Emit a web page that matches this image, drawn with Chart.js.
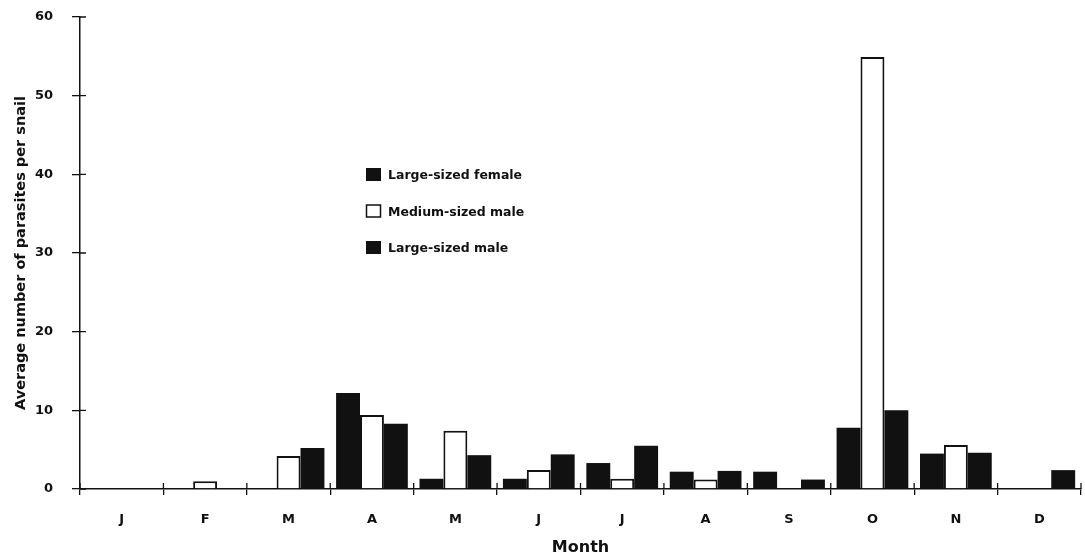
<!DOCTYPE html>
<html>
<head>
<meta charset="utf-8">
<script src="https://cdn.jsdelivr.net/npm/chart.js@4/dist/chart.umd.min.js"></script>
<style>
  html, body { margin: 0; padding: 0; background: #fff; }
  #wrap { width: 1085px; height: 557px; }
</style>
</head>
<body>
<div id="wrap"><canvas id="chart" width="1085" height="557"></canvas></div>
<script>
// months and values
const months = ['J', 'F', 'M', 'A', 'M', 'J', 'J', 'A', 'S', 'O', 'N', 'D'];
const largeFemale = [0, 0, 0, 12.2, 1.3, 1.3, 3.3, 2.2, 2.2, 7.8, 4.5, 0];
const mediumMale = [0, 1.0, 4.2, 9.4, 7.4, 2.4, 1.3, 1.2, 0, 54.9, 5.6, 0];
const largeMale = [0, 0, 5.2, 8.3, 4.3, 4.4, 5.5, 2.3, 1.2, 10.0, 4.6, 2.4];
const yTicks = [0, 10, 20, 30, 40, 50, 60];

const ink = '#111';
const fontFam = "'DejaVu Sans', 'Liberation Sans', sans-serif";

// legend drawn inside the plot, like in the paper figure
const innerLegend = {
  id: 'innerLegend',
  afterDraw(chart) {
    const ctx = chart.ctx;
    ctx.save();
    ctx.font = 'bold 12.5px ' + fontFam;
    ctx.textBaseline = 'middle';
    chart.data.datasets.forEach((ds, i) => {
      const y = 175 + i * 36.5;
      ctx.fillStyle = ds.backgroundColor;
      ctx.fillRect(366, y - 7, 15, 13);
      if (ds.borderWidth) {
        ctx.strokeStyle = ink;
        ctx.lineWidth = 1.5;
        ctx.strokeRect(366.5, y - 6.5, 14, 12);
      }
      ctx.fillStyle = ink;
      ctx.fillText(ds.label, 388, y + 1);
    });
    ctx.restore();
  }
};

// ticks in the figure cross the axes, chart.js only draws the outer half
const innerTicks = {
  id: 'innerTicks',
  afterDraw(chart) {
    const ctx = chart.ctx;
    const x = chart.scales.x, y = chart.scales.y;
    ctx.save();
    ctx.strokeStyle = ink;
    ctx.lineWidth = 1.3;
    ctx.beginPath();
    yTicks.forEach(v => {
      const py = y.getPixelForValue(v);
      ctx.moveTo(x.left, py);
      ctx.lineTo(x.left + 6, py);
    });
    for (let i = 0; i <= months.length; i++) {
      const px = x.getPixelForValue(i - 0.5);
      ctx.moveTo(px, y.bottom);
      ctx.lineTo(px, y.bottom - 6);
    }
    ctx.stroke();
    ctx.restore();
  }
};

new Chart(document.getElementById('chart'), {
  type: 'bar',
  data: {
    labels: months,
    datasets: [
      { label: 'Large-sized female', data: largeFemale, backgroundColor: ink, borderWidth: 0 },
      { label: 'Medium-sized male', data: mediumMale, backgroundColor: '#fff', borderColor: ink, borderWidth: 2, borderSkipped: 'bottom' },
      { label: 'Large-sized male', data: largeMale, backgroundColor: ink, borderWidth: 0 }
    ]
  },
  options: {
    responsive: false,
    animation: false,
    layout: { padding: { top: 17, right: 4, left: 0, bottom: 0 } },
    datasets: { bar: { categoryPercentage: 0.86, barPercentage: 1.0 } },
    plugins: { legend: { display: false }, tooltip: { enabled: false } },
    scales: {
      x: {
        grid: { display: true, drawOnChartArea: false, offset: true, color: ink, lineWidth: 1.3, tickLength: 6 },
        border: { color: ink, width: 1.5 },
        ticks: { color: ink, font: { family: fontFam, size: 13, weight: 'bold' }, padding: 17, maxRotation: 0 },
        title: { display: true, text: 'Month', color: ink, font: { family: fontFam, size: 16, weight: 'bold' }, padding: { top: 4, bottom: 0 } },
        afterFit(s) { s.height = 68; s.paddingLeft = 0; s.paddingRight = 0; }
      },
      y: {
        min: 0, max: 60,
        afterBuildTicks(s) { s.ticks = yTicks.map(v => ({ value: v })); },
        grid: { display: true, drawOnChartArea: false, color: ink, lineWidth: 1.3, tickLength: 8 },
        border: { color: ink, width: 1.5 },
        ticks: { color: ink, font: { family: fontFam, size: 13, weight: 'bold' }, padding: 19 },
        title: { display: true, text: 'Average number of parasites per snail', color: ink, font: { family: fontFam, size: 14.5, weight: 'bold' }, padding: { top: 13, bottom: 0 } },
        afterFit(s) { s.width = 80; s.paddingTop = 0; s.paddingBottom = 0; }
      }
    }
  },
  plugins: [innerLegend, innerTicks]
});
</script>
</body>
</html>
